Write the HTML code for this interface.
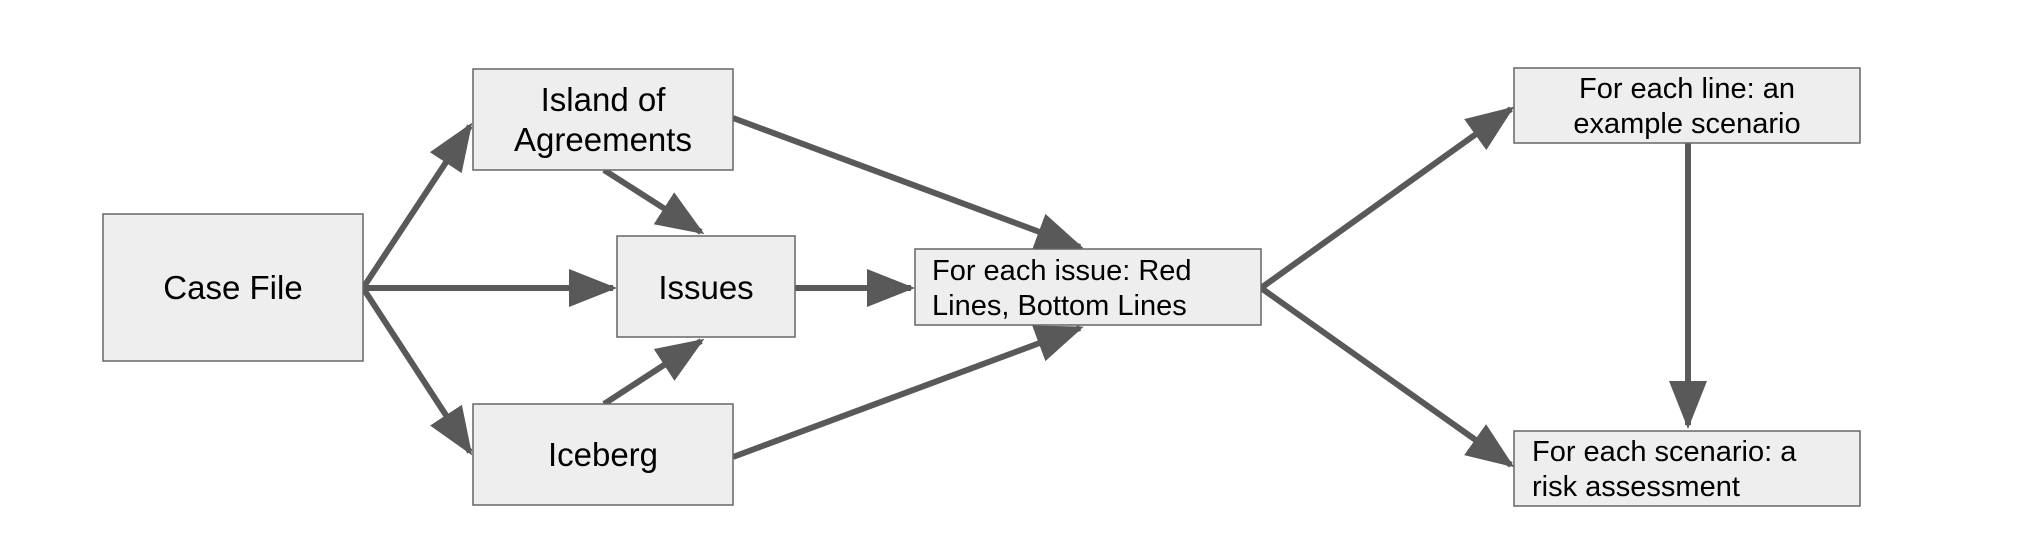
<!DOCTYPE html>
<html><head><meta charset="utf-8"><style>
html,body{margin:0;padding:0;background:#fff;}
svg{display:block;}
text{font-family:"Liberation Sans",Arial,sans-serif;fill:#000;}
</style></head><body>
<svg width="2020" height="560" viewBox="0 0 2020 560" xmlns="http://www.w3.org/2000/svg">
<defs>
<marker id="a" markerUnits="userSpaceOnUse" markerWidth="50" markerHeight="40" refX="44" refY="19" orient="auto">
<path d="M0,0 L48,19 L0,38 z" fill="#595959"/>
</marker>
</defs>
<g stroke="#595959" stroke-width="6" fill="none" marker-end="url(#a)">
<line x1="363" y1="288" x2="470" y2="126"/>
<line x1="363" y1="288" x2="613" y2="288"/>
<line x1="363" y1="288" x2="470" y2="452"/>
<line x1="604" y1="170" x2="701" y2="232"/>
<line x1="604" y1="404" x2="701" y2="341"/>
<line x1="795" y1="288" x2="911" y2="288"/>
<line x1="733" y1="118" x2="1080" y2="247"/>
<line x1="733" y1="457" x2="1080" y2="328"/>
<line x1="1261" y1="288" x2="1511" y2="109"/>
<line x1="1261" y1="288" x2="1511" y2="465"/>
<line x1="1688" y1="143" x2="1688" y2="425"/>
</g>
<g fill="#eeeeee" stroke="#666" stroke-width="1.5">
<rect x="103" y="214" width="260" height="147"/>
<rect x="473" y="69" width="260" height="101"/>
<rect x="617" y="236" width="178" height="101"/>
<rect x="473" y="404" width="260" height="101"/>
<rect x="915" y="249" width="346" height="76"/>
<rect x="1514" y="68" width="346" height="75"/>
<rect x="1514" y="431" width="346" height="75"/>
</g>
<g font-size="33" text-anchor="middle">
<text x="603" y="111">Island of</text>
<text x="603" y="151">Agreements</text>
<text x="233" y="299">Case File</text>
<text x="706" y="299">Issues</text>
<text x="603" y="466">Iceberg</text>
</g>
<g font-size="29">
<text x="932" y="280">For each issue: Red</text>
<text x="932" y="315">Lines, Bottom Lines</text>
<text x="1687" y="98" text-anchor="middle">For each line: an</text>
<text x="1687" y="133" text-anchor="middle">example scenario</text>
<text x="1532" y="461">For each scenario: a</text>
<text x="1532" y="496">risk assessment</text>
</g>
</svg>
</body></html>
